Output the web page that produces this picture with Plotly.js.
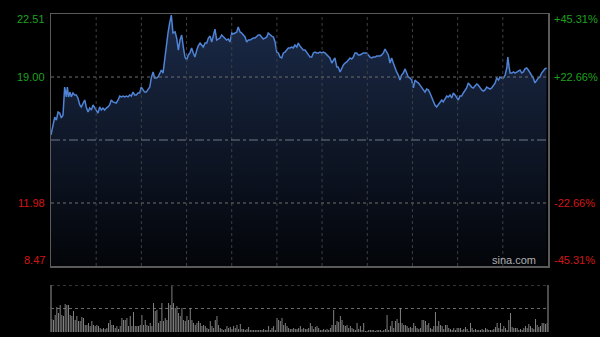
<!DOCTYPE html>
<html><head><meta charset="utf-8">
<script src="https://cdn.plot.ly/plotly-3.0.1.min.js"></script>
<style>html,body{margin:0;padding:0;background:#000;}#chart{width:600px;height:337px;}</style>
</head><body><div id="chart"></div>
<script>
const minutes = [0,1.0,1.8,2.6,3.4,4.2,5.0,5.8,6.6,7.4,7.9,8.5,9.2,9.8,10.6,11.4,12.2,13.0,13.9,14.6,15.5,16.3,17.0,17.9,18.7,19.5,20.3,21.1,21.9,22.7,23.5,24.3,25.1,25.9,26.7,27.5,28.3,29.1,29.9,30.8,31.5,32.4,33.2,33.9,34.8,35.6,36.4,37.2,38.0,38.8,39.6,40.4,41.2,42.0,42.8,43.6,44.4,45.2,46.0,46.8,47.7,48.4,49.3,50.1,50.8,51.7,52.5,53.3,54.1,54.9,55.7,56.5,57.3,58.1,58.9,
59.9,60.7,61.5,62.3,63.1,63.9,64.7,65.5,66.3,67.1,67.9,68.7,69.5,70.4,71.1,72.0,72.8,73.5,74.4,75.2,76.0,76.8,77.6,78.4,79.2,80.0,80.8,81.6,82.4,83.2,84.0,84.8,85.6,86.4,87.3,88.0,88.9,89.7,90.4,91.3,92.1,92.9,93.7,94.5,95.3,96.1,96.9,97.7,98.5,99.3,100.1,100.9,101.7,102.5,103.3,104.2,104.9,105.8,106.6,107.4,108.2,109.0,109.8,110.6,111.4,112.2,113.0,113.8,114.6,115.4,116.2,117.0,117.8,118.7,119.4,120.2,121.1,121.8,122.7,123.5,124.3,125.1,125.9,126.7,127.5,128.3,129.1,129.9,130.7,131.5,132.3,133.1,133.9,134.7,135.6,136.3,137.1,138.0,138.7,139.6,140.4,141.2,142.0,142.8,143.6,144.4,145.2,146.0,146.8,147.6,148.4,149.2,150.0,150.8,151.6,152.5,153.2,154.0,154.9,155.6,156.5,157.3,158.1,158.9,159.7,160.5,161.3,162.1,162.9,163.7,164.5,165.3,166.1,166.9,167.7,168.5,169.3,170.1,171.0,171.8,172.5,173.4,174.2,175.0,175.8,176.6,177.4,178.2,179.0,179.8,180.6,181.4,182.2,183.0,183.8,184.6,185.4,186.2,187.0,187.8,188.7,189.4,190.3,191.1,191.8,192.7,193.5,194.3,195.1,195.9,196.7,197.5,198.3,199.1,199.9,200.7,201.5,202.3,203.1,203.9,204.8,205.6,206.3,207.2,208.0,208.8,209.6,210.4,211.2,212.0,212.8,213.6,214.5,215.2,216.1,216.8,217.7,218.5,219.3,220.1,220.6,221.2,221.7,222.5,223.3,224.1,224.9,225.7,226.5,227.3,228.1,228.9,229.7,230.5,231.3,232.1,232.9,233.7,234.5,235.3,236.1,236.9,237.7,238.5,239.3];
const prices = [15.77,16.44,16.77,16.60,17.05,16.99,16.72,16.88,18.44,17.89,18.44,17.89,18.16,17.89,18.11,18.00,18.00,17.83,17.44,17.33,17.55,17.72,17.33,17.05,17.27,17.16,17.44,17.27,17.16,16.99,17.33,17.16,17.27,17.16,17.27,17.33,17.44,17.72,17.61,17.55,17.55,17.72,17.94,17.89,17.94,17.89,17.94,17.89,18.00,17.94,18.16,18.00,18.00,18.11,18.11,18.44,18.33,18.16,18.16,18.28,18.44,18.94,19.28,18.94,18.94,19.00,19.22,19.39,19.22,19.95,20.89,21.45,22.01,22.45,21.45,
21.51,21.17,20.50,21.06,21.34,20.67,20.11,19.95,20.23,20.34,20.62,20.34,20.11,20.50,20.73,20.89,20.73,20.67,20.89,20.89,21.17,21.28,20.95,21.34,21.67,21.06,21.12,21.17,21.34,21.23,21.17,21.06,21.12,20.95,21.45,21.40,21.45,21.51,21.79,21.51,21.45,21.34,21.23,20.95,21.06,21.06,21.12,21.17,21.17,21.23,21.34,21.34,21.23,21.12,21.17,21.23,21.45,21.34,21.28,21.23,20.95,20.39,20.34,20.11,20.06,20.34,20.39,20.50,20.62,20.62,20.67,20.62,20.78,20.67,20.89,20.73,20.62,20.50,20.50,20.39,20.23,20.11,20.11,20.34,20.39,20.34,20.34,20.39,20.34,20.39,20.34,20.23,20.11,20.06,19.78,19.95,20.06,19.56,19.56,19.28,19.50,19.67,19.78,19.84,19.95,20.06,20.00,20.11,20.34,20.34,20.23,20.23,20.28,20.34,20.34,20.34,20.23,20.11,20.06,20.11,20.11,20.17,20.17,20.17,20.23,20.34,20.56,20.39,20.23,19.78,20.06,19.78,19.50,19.28,19.11,18.83,19.11,19.22,19.45,19.22,19.00,18.94,18.83,18.39,18.83,18.72,18.67,18.55,18.44,18.28,18.16,18.33,18.28,18.11,17.89,17.61,17.44,17.33,17.44,17.61,17.72,17.61,17.83,17.94,17.89,18.00,17.83,18.11,18.00,17.89,17.72,17.94,17.94,18.11,18.28,18.39,18.67,18.55,18.44,18.39,18.50,18.61,18.55,18.39,18.28,18.22,18.28,18.44,18.39,18.33,18.39,18.55,18.67,18.94,18.83,19.00,18.94,18.94,19.11,19.50,20.11,19.56,19.22,19.22,19.28,19.22,19.28,19.33,19.39,19.22,19.28,19.45,19.50,19.39,19.22,19.11,18.94,18.67,18.83,18.94,19.00,19.22,19.33,19.45,19.50];
const volumes = [13,12,17,25,19,27,17,16,28,27,27,17,16,21,12,16,11,11,15,14,7,7,9,6,11,7,6,7,6,4,3,4,3,4,9,12,7,7,4,6,3,6,14,12,12,14,6,16,6,20,6,6,6,7,17,7,12,7,6,9,6,29,21,22,9,11,29,11,14,12,29,27,46,29,24,26,19,16,24,12,11,16,12,24,12,9,7,9,11,9,6,7,6,4,3,11,6,4,12,16,7,4,3,2,3,6,4,5,3,6,4,7,3,8,3,3,2,3,5,2,2,2,2,2,2,2,2,3,2,2,6,2,4,6,2,14,12,11,14,7,9,6,4,3,3,4,3,3,4,
6,3,4,3,3,4,9,6,3,5,6,4,2,2,3,2,3,2,4,7,22,7,11,10,16,12,7,6,7,4,6,4,3,2,9,3,6,2,9,1,1,2,2,2,2,1,2,2,2,1,2,3,17,2,6,11,4,11,13,9,24,9,7,7,6,4,5,4,9,6,4,3,4,12,12,11,7,9,4,3,6,20,6,11,7,6,3,7,7,4,3,2,4,2,4,4,4,2,3,5,3,1,9,4,2,3,2,2,2,3,2,4,3,2,2,2,3,5,9,4,9,3,6,4,2,12,19,5,4,4,4,2,3,2,4,6,4,8,6,4,3,13,7,5,6,9,9,8,9];
const prevClose = 15.49;
const priceLevels = [22.51, 19.00, 11.98, 8.47];
const priceLabels = ['22.51', '19.00', '11.98', '8.47'];
const pctLabels = ['+45.31%', '+22.66%', '-22.66%', '-45.31%'];
const sessionMinutes = 240;
const volMax = 47;

const green = '#1ea01e', red = '#d41515';
const labelColors = [green, green, red, red];
const labelShift = [-5, 0, 0, 6];

const volIdx = volumes.map((v, i) => i);

const traces = [
  {
    x: minutes, y: prices, type: 'scatter', mode: 'lines',
    line: {color: '#4f83d6', width: 1.5},
    fill: 'tozeroy',
    fillgradient: {type: 'vertical', start: priceLevels[3], stop: priceLevels[0],
      colorscale: [[0, '#030509'], [1, '#1b2a48']]},
    xaxis: 'x', yaxis: 'y', hoverinfo: 'skip'
  },
  {
    x: volIdx, y: volumes, type: 'bar',
    marker: {color: '#8c8c8c', line: {width: 0}},
    xaxis: 'x2', yaxis: 'y2', hoverinfo: 'skip'
  }
];

const font = 'Liberation Sans, Arial, sans-serif';
const annotations = [];
priceLevels.forEach((lv, i) => {
  annotations.push({xref: 'paper', yref: 'y', x: 47/600, y: lv, text: priceLabels[i],
    xanchor: 'right', yanchor: 'middle', yshift: labelShift[i], showarrow: false,
    font: {family: font, size: 11, color: labelColors[i]}});
  annotations.push({xref: 'paper', yref: 'y', x: 552/600, y: lv, text: pctLabels[i],
    xanchor: 'left', yanchor: 'middle', yshift: labelShift[i], showarrow: false,
    font: {family: font, size: 11, color: labelColors[i]}});
});
annotations.push({xref: 'paper', yref: 'y', x: 538/600, y: priceLevels[3], text: 'sina.com',
  xanchor: 'right', yanchor: 'middle', yshift: 6, showarrow: false,
  font: {family: font, size: 11, color: '#b0b0b0'}});

const shapes = [];
// vertical dotted grid over the area
for (let k = 1; k <= 10; k++) {
  const gx = k * sessionMinutes / 11;
  shapes.push({type: 'line', xref: 'x', yref: 'paper', x0: gx, x1: gx, y0: 71/337, y1: 323/337,
    line: {color: '#3c3f45', width: 1, dash: 'dot'}, layer: 'above'});
}
// horizontal dotted grid lines
[priceLevels[1], priceLevels[2]].forEach(lv => {
  shapes.push({type: 'line', xref: 'paper', yref: 'y', x0: 51/600, x1: 548/600, y0: lv, y1: lv,
    line: {color: '#6e6e6e', width: 1, dash: 'dot'}, layer: 'above'});
});
// previous close
shapes.push({type: 'line', xref: 'x', yref: 'y', x0: 0, x1: sessionMinutes, y0: prevClose, y1: prevClose,
  line: {color: '#707884', width: 1.2, dash: 'dashdot'}, layer: 'above'});
// volume panel frame
shapes.push({type: 'line', xref: 'paper', yref: 'paper', x0: 51/600, x1: 51/600, y0: 5/337, y1: 52/337,
  line: {color: '#666', width: 1.5}});
shapes.push({type: 'line', xref: 'paper', yref: 'paper', x0: 548/600, x1: 548/600, y0: 5/337, y1: 52/337,
  line: {color: '#666', width: 1.5}});
[volMax, volMax / 2].forEach(v => {
  shapes.push({type: 'line', xref: 'paper', yref: 'y2', x0: 51/600, x1: 548/600, y0: v, y1: v,
    line: {color: '#6a6a6a', width: 1, dash: 'dot'}, layer: 'below'});
});

const layout = {
  width: 600, height: 337,
  margin: {l: 0, r: 0, t: 0, b: 0},
  paper_bgcolor: '#000', plot_bgcolor: 'rgba(0,0,0,0)',
  showlegend: false,
  bargap: 0.45,
  xaxis: {domain: [51/600, 548/600], range: [0, sessionMinutes], showticklabels: false,
    showgrid: false, ticks: '', zeroline: false, showline: true, mirror: true,
    linecolor: '#5a5a5a', linewidth: 1.5, fixedrange: true},
  yaxis: {domain: [71/337, 323/337], range: [priceLevels[3], priceLevels[0]], showticklabels: false,
    showgrid: false, ticks: '', zeroline: false, showline: true, mirror: true,
    linecolor: '#5a5a5a', linewidth: 1.5, fixedrange: true},
  xaxis2: {domain: [51/600, 548/600], range: [-0.5, volumes.length - 0.5], showticklabels: false,
    showgrid: false, zeroline: false, showline: false, ticks: '', anchor: 'y2', fixedrange: true},
  yaxis2: {domain: [5/337, 52/337], range: [0, volMax], showticklabels: false,
    showgrid: false, zeroline: false, showline: false, ticks: '', anchor: 'x2', fixedrange: true},
  shapes: shapes,
  annotations: annotations
};

Plotly.newPlot('chart', traces, layout, {staticPlot: true, displayModeBar: false});
</script>
</body></html>
